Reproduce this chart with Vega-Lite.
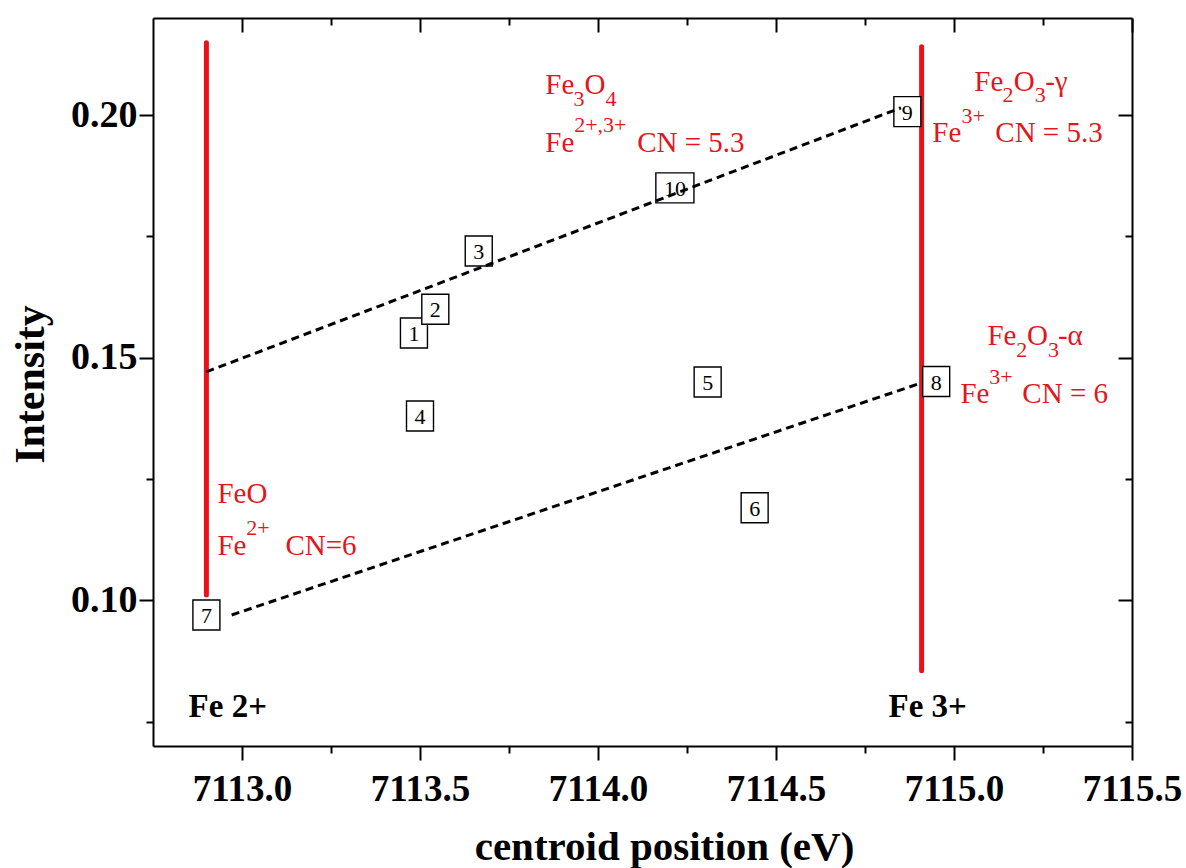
{
  "$schema": "https://vega.github.io/schema/vega-lite/v6.json",
  "width": 979,
  "height": 728,
  "autosize": {"type": "none"},
  "padding": {"left": 153, "top": 18, "right": 54, "bottom": 122},
  "background": "white",
  "config": {
    "view": {"stroke": null},
    "axis": {
      "grid": false,
      "domainColor": "black",
      "domainWidth": 2,
      "tickColor": "black",
      "tickWidth": 2,
      "labelFont": "Liberation Serif",
      "labelFontWeight": "bold",
      "labelColor": "black",
      "titleFont": "Liberation Serif",
      "titleFontWeight": "bold",
      "titleColor": "black",
      "labelFlush": false,
      "labelOverlap": false,
      "labelBound": false
    }
  },
  "datasets": {
    "pts": [
      {"n": 1, "x": 7113.483, "y": 0.1551},
      {"n": 2, "x": 7113.543, "y": 0.1600},
      {"n": 3, "x": 7113.665, "y": 0.1720},
      {"n": 4, "x": 7113.500, "y": 0.1380},
      {"n": 5, "x": 7114.308, "y": 0.1450},
      {"n": 6, "x": 7114.440, "y": 0.1191},
      {"n": 7, "x": 7112.900, "y": 0.0970},
      {"n": 8, "x": 7114.950, "y": 0.1451},
      {"n": 9, "x": 7114.869, "y": 0.2007},
      {"n": 10, "x": 7114.216, "y": 0.1850}
    ],
    "refs": [
      {"x": 7112.900, "y": 0.1011, "y2": 0.2149},
      {"x": 7114.909, "y": 0.0855, "y2": 0.2141}
    ],
    "fits": [
      {"x": 7112.900, "y": 0.1471, "x2": 7114.851, "y2": 0.2015},
      {"x": 7112.971, "y": 0.0970, "x2": 7114.904, "y2": 0.1447}
    ],
    "notes": [
      {"t": "Fe", "kind": "base", "x": 7113.852, "y": 0.20438},
      {"t": "3", "kind": "script", "x": 7113.931, "y": 0.20177},
      {"t": "O", "kind": "base", "x": 7113.962, "y": 0.20438},
      {"t": "4", "kind": "script", "x": 7114.021, "y": 0.20177},
      {"t": "Fe", "kind": "base", "x": 7113.852, "y": 0.19237},
      {"t": "2+,3+", "kind": "script", "x": 7113.933, "y": 0.19652},
      {"t": "CN = 5.3", "kind": "base", "x": 7114.110, "y": 0.19237},
      {"t": "Fe", "kind": "base", "x": 7115.057, "y": 0.20506},
      {"t": "2", "kind": "script", "x": 7115.136, "y": 0.20259},
      {"t": "O", "kind": "base", "x": 7115.168, "y": 0.20506},
      {"t": "3", "kind": "script", "x": 7115.227, "y": 0.20259},
      {"t": "-γ", "kind": "base", "x": 7115.256, "y": 0.20506},
      {"t": "Fe", "kind": "base", "x": 7114.939, "y": 0.19442},
      {"t": "3+", "kind": "script", "x": 7115.021, "y": 0.19827},
      {"t": "CN = 5.3", "kind": "base", "x": 7115.116, "y": 0.19442},
      {"t": "Fe", "kind": "base", "x": 7115.094, "y": 0.15259},
      {"t": "2", "kind": "script", "x": 7115.175, "y": 0.15012},
      {"t": "O", "kind": "base", "x": 7115.205, "y": 0.15259},
      {"t": "3", "kind": "script", "x": 7115.264, "y": 0.15012},
      {"t": "-α", "kind": "base", "x": 7115.292, "y": 0.15259},
      {"t": "Fe", "kind": "base", "x": 7115.018, "y": 0.14060},
      {"t": "3+", "kind": "script", "x": 7115.099, "y": 0.14457},
      {"t": "CN = 6", "kind": "base", "x": 7115.192, "y": 0.14060},
      {"t": "FeO", "kind": "base", "x": 7112.931, "y": 0.12014},
      {"t": "Fe", "kind": "base", "x": 7112.931, "y": 0.10938},
      {"t": "2+", "kind": "script", "x": 7113.012, "y": 0.11350},
      {"t": "CN=6", "kind": "base", "x": 7113.122, "y": 0.10938}
    ],
    "ions": [
      {"t": "Fe 2+", "x": 7112.850, "y": 0.0759},
      {"t": "Fe 3+", "x": 7114.816, "y": 0.0759}
    ]
  },
  "encoding": {
    "x": {"field": "x", "type": "quantitative", "scale": {"domain": [7112.75, 7115.5], "nice": false, "zero": false}, "axis": null},
    "y": {"field": "y", "type": "quantitative", "scale": {"domain": [0.07, 0.22], "nice": false, "zero": false}, "axis": null}
  },
  "resolve": {"axis": {"x": "independent", "y": "independent"}},
  "layer": [
    {
      "data": {"name": "pts"},
      "mark": {"type": "point", "opacity": 0},
      "encoding": {
        "x": {
          "field": "x", "type": "quantitative",
          "scale": {"domain": [7112.75, 7115.5], "nice": false, "zero": false},
          "axis": {
            "orient": "bottom",
            "values": [7113, 7113.25, 7113.5, 7113.75, 7114, 7114.25, 7114.5, 7114.75, 7115, 7115.25, 7115.5],
            "labelExpr": "abs(datum.value*2 - round(datum.value*2)) < 0.001 ? format(datum.value, '.1f') : ''",
            "tickSize": {"condition": {"test": "abs(datum.value*2 - round(datum.value*2)) < 0.001", "value": 14}, "value": 7},
            "labelFontSize": 37,
            "labelBaseline": "alphabetic",
            "labelPadding": 40,
            "title": "centroid position (eV)",
            "titleFontSize": 41,
            "titleBaseline": "alphabetic",
            "titleAnchor": "middle",
            "titleX": 511,
            "titleY": 113
          }
        },
        "y": {
          "field": "y", "type": "quantitative",
          "scale": {"domain": [0.07, 0.22], "nice": false, "zero": false},
          "axis": {
            "orient": "left",
            "values": [0.075, 0.1, 0.125, 0.15, 0.175, 0.2],
            "labelExpr": "abs(datum.value*20 - round(datum.value*20)) < 0.001 ? format(datum.value, '.2f') : ''",
            "tickSize": {"condition": {"test": "abs(datum.value*20 - round(datum.value*20)) < 0.001", "value": 14}, "value": 7},
            "labelFontSize": 38,
            "labelBaseline": "middle",
            "labelPadding": 2,
            "title": "Intensity",
            "titleFontSize": 42,
            "titleAngle": -90,
            "titleAlign": "center",
            "titleBaseline": "alphabetic",
            "titleX": -110,
            "titleY": 366
          }
        }
      }
    },
    {
      "data": {"name": "pts"},
      "mark": {"type": "point", "opacity": 0},
      "encoding": {
        "x": {
          "field": "x", "type": "quantitative",
          "scale": {"domain": [7112.75, 7115.5], "nice": false, "zero": false},
          "axis": {
            "orient": "top",
            "values": [7113, 7113.25, 7113.5, 7113.75, 7114, 7114.25, 7114.5, 7114.75, 7115, 7115.25, 7115.5],
            "labels": false,
            "title": null,
            "tickSize": {"condition": {"test": "abs(datum.value*2 - round(datum.value*2)) < 0.001", "value": -14}, "value": -7}
          }
        },
        "y": {
          "field": "y", "type": "quantitative",
          "scale": {"domain": [0.07, 0.22], "nice": false, "zero": false},
          "axis": {
            "orient": "right",
            "values": [0.075, 0.1, 0.125, 0.15, 0.175, 0.2],
            "labels": false,
            "title": null,
            "tickSize": {"condition": {"test": "abs(datum.value*20 - round(datum.value*20)) < 0.001", "value": -14}, "value": -7}
          }
        }
      }
    },
    {
      "data": {"name": "refs"},
      "mark": {"type": "rule", "color": "#ea1219", "strokeWidth": 5, "strokeCap": "round"},
      "encoding": {
        "y2": {"field": "y2"}
      }
    },
    {
      "data": {"name": "pts"},
      "mark": {"type": "point", "filled": true, "fill": "white", "stroke": "black", "strokeWidth": 1.4, "opacity": 1, "size": 900},
      "encoding": {
        "shape": {
          "condition": {"test": "datum.n >= 10", "value": "M-1.27,-1H1.27V1H-1.27Z"},
          "value": "M-0.9,-1H0.9V1H-0.9Z"
        }
      }
    },
    {
      "data": {"name": "pts"},
      "mark": {"type": "text", "font": "Liberation Serif, Times New Roman, serif", "fontSize": 22, "color": "black", "align": "center", "baseline": "middle", "dy": 1},
      "encoding": {
        "text": {"field": "n", "type": "nominal"}
      }
    },
    {
      "data": {"name": "fits"},
      "mark": {"type": "rule", "color": "black", "strokeWidth": 3, "strokeDash": [8, 5]},
      "encoding": {
        "x2": {"field": "x2"},
        "y2": {"field": "y2"}
      }
    },
    {
      "data": {"name": "notes"},
      "transform": [{"filter": "datum.kind === 'base'"}],
      "mark": {"type": "text", "font": "Liberation Serif, Times New Roman, serif", "fontSize": 29, "color": "#e3161c", "align": "left", "baseline": "alphabetic"},
      "encoding": {
        "text": {"field": "t", "type": "nominal"}
      }
    },
    {
      "data": {"name": "notes"},
      "transform": [{"filter": "datum.kind === 'script'"}],
      "mark": {"type": "text", "font": "Liberation Serif, Times New Roman, serif", "fontSize": 22, "color": "#e3161c", "align": "left", "baseline": "alphabetic"},
      "encoding": {
        "text": {"field": "t", "type": "nominal"}
      }
    },
    {
      "data": {"name": "ions"},
      "mark": {"type": "text", "font": "Liberation Serif, Times New Roman, serif", "fontSize": 33, "fontWeight": "bold", "color": "black", "align": "left", "baseline": "alphabetic"},
      "encoding": {
        "text": {"field": "t", "type": "nominal"}
      }
    }
  ]
}
